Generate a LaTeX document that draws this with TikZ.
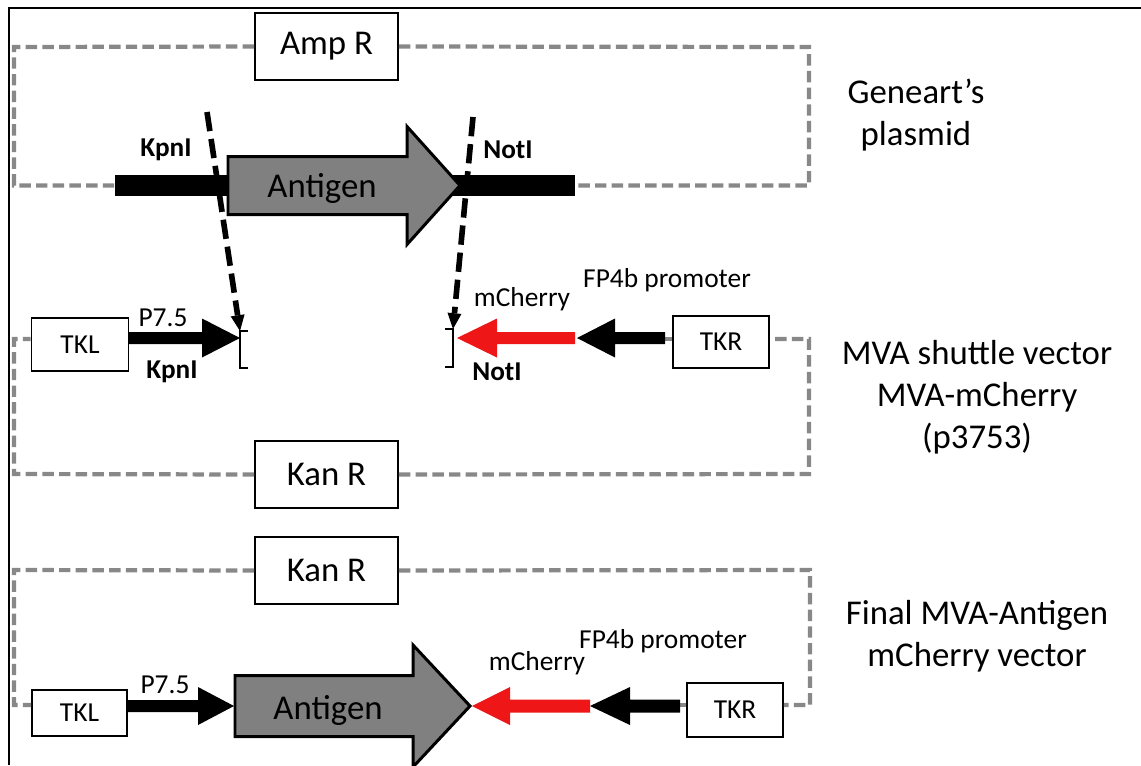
\documentclass[tikz,border=0pt]{standalone}
\usepackage{fontspec}
\setmainfont{Carlito}
\usetikzlibrary{arrows.meta}

\definecolor{backbonegray}{RGB}{136,136,136}
\definecolor{antigengray}{RGB}{128,128,128}
\definecolor{cherryred}{RGB}{238,22,22}

\begin{document}
\begin{tikzpicture}[x=0.02cm,y=-0.02cm,
        big/.style={font=\fontsize{19.8}{23.8}\selectfont},
        small/.style={font=\fontsize{15.6}{18}\selectfont},
        site/.style={font=\bfseries\fontsize{15.5}{18}\selectfont},
        marker/.style={draw=black, line width=1.1pt, fill=white, inner sep=0pt},
        backbone/.style={draw=backbonegray, line width=2.4pt,
            dash pattern=on 6.5pt off 3pt},
        gene/.style={draw=black, line width=1.7pt, fill=antigengray,
            line join=miter},
        cut/.style={black, line width=3.2pt, dash pattern=on 11pt off 4.5pt,
            -{Triangle[length=9pt,width=8pt,line width=0pt]}},
        bracket/.style={black, line width=0.8pt}]
    \useasboundingbox (0,0) rectangle (1141,765);

    % Outer frame.
    \draw[line width=1.2pt] (9,765) -- (9,8) -- (1141,8);

    % Plasmid from Geneart.
    \node[marker, big, minimum width=2.86cm, minimum height=1.34cm]
        (ampR) at (326.5,46.5) {Amp R};
    \draw[backbone] (ampR.west) -- (14,47) -- (14,185.5) -- (115,185.5);
    \draw[backbone] (ampR.east) -- (809,47) -- (809,185.5) -- (575,185.5);
    \fill (115,175) rectangle (575,196);
    \draw[gene,shift={(228,185.5)}]
        (0,-29)--(179,-29)--(179,-59)--(232,0)--(179,59)--(179,29)--(0,29)--cycle;
    \node[big] (antigen1) at (322,188) {Antigen};
    \node[site] (kpn1) at (166,150) {KpnI};
    \node[site] (not1) at (508,150) {NotI};
    \node[big, align=center] (geneart) at (916,115) {Geneart’s\\plasmid};

    % MVA shuttle vector with its two cloning sites.
    \node[marker, small, minimum width=1.94cm, minimum height=1.06cm]
        (tkl1) at (80,344.5) {TKL};
    \node[marker, small, minimum width=1.92cm, minimum height=1.04cm]
        (tkr1) at (721,342) {TKR};
    \node[marker, big, minimum width=2.86cm, minimum height=1.34cm]
        (kanR1) at (326.5,474.5) {Kan R};
    \draw[backbone] (kanR1.west) -- (14,474) -- (14,339) -- (tkl1.west |- 0,339);
    \draw[backbone] (tkl1.east |- 0,339) -- (135,339);
    \draw[backbone] (kanR1.east) -- (809,474) -- (809,339) -- (tkr1.east |- 0,339);
    \draw[backbone] (tkr1.west |- 0,339) -- (660,339);
    \fill[shift={(128,338)}]
        (0,-6)--(74,-6)--(74,-19.5)--(112,0)--(74,19.5)--(74,6)--(0,6)--cycle;
    \fill[cherryred,shift={(575,338)}]
        (0,-6)--(-78,-6)--(-78,-19.5)--(-118,0)--(-78,19.5)--(-78,6)--(0,6)--cycle;
    \fill[shift={(665,338)}]
        (0,-6)--(-50,-6)--(-50,-19.5)--(-88,0)--(-50,19.5)--(-50,6)--(0,6)--cycle;
    \coordinate (kpnsite) at (240,331);
    \coordinate (notsite) at (453,329);
    \draw[bracket] (248,331) -- (kpnsite) -- (240,368) -- (248,368);
    \draw[bracket] (445,329) -- (notsite) -- (453,367) -- (445,367);
    \node[small] (p75a) at (163,318) {P7.5};
    \node[site] (kpn2) at (172,372) {KpnI};
    \node[site] (not2) at (497,372) {NotI};
    \node[small] (cherry1) at (522,299) {mCherry};
    \node[small] (fp4b1) at (667,280) {FP4b promoter};
    \node[big, align=center] (shuttle) at (977,397)
        {MVA shuttle vector\\MVA-mCherry\\(p3753)};

    % Final vector with the antigen cloned in.
    \node[marker, big, minimum width=2.86cm, minimum height=1.34cm]
        (kanR2) at (326.5,570.5) {Kan R};
    \node[marker, small, minimum width=1.9cm, minimum height=0.92cm]
        (tkl2) at (79.5,713) {TKL};
    \node[marker, small, minimum width=1.92cm, minimum height=1.08cm]
        (tkr2) at (735,710) {TKR};
    \draw[backbone] (kanR2.west) -- (14,570) -- (14,705) -- (tkl2.west |- 0,705);
    \draw[backbone] (kanR2.east) -- (810,570) -- (810,705) -- (tkr2.east |- 0,705);
    \draw[backbone] (tkr2.west |- 0,705) -- (676,705);
    \fill[shift={(127,706)}]
        (0,-6)--(71,-6)--(71,-19)--(107,0)--(71,19)--(71,6)--(0,6)--cycle;
    \draw[gene,shift={(235,706)}]
        (0,-30.5)--(178,-30.5)--(178,-61)--(235,0)--(178,61)--(178,30.5)--(0,30.5)--cycle;
    \fill[cherryred,shift={(590,706)}]
        (0,-6.5)--(-80,-6.5)--(-80,-19)--(-118,0)--(-80,19)--(-80,6.5)--(0,6.5)--cycle;
    \fill[shift={(680,706)}]
        (0,-6.5)--(-50,-6.5)--(-50,-19)--(-90,0)--(-50,19)--(-50,6.5)--(0,6.5)--cycle;
    \node[big] (antigen2) at (328,710) {Antigen};
    \node[small] (p75b) at (165,685) {P7.5};
    \node[small] (cherry2) at (537,663) {mCherry};
    \node[small] (fp4b2) at (663,641) {FP4b promoter};
    \node[big, align=center] (final) at (977,636)
        {Final MVA-Antigen\\mCherry vector};

    % Restriction cuts carried down into the shuttle vector.
    \coordinate (kpncut) at (207,112);
    \coordinate (notcut) at (473,117);
    \draw[cut] (kpncut) -- (kpnsite);
    \draw[cut] (notcut) -- (notsite);
\end{tikzpicture}
\end{document}
